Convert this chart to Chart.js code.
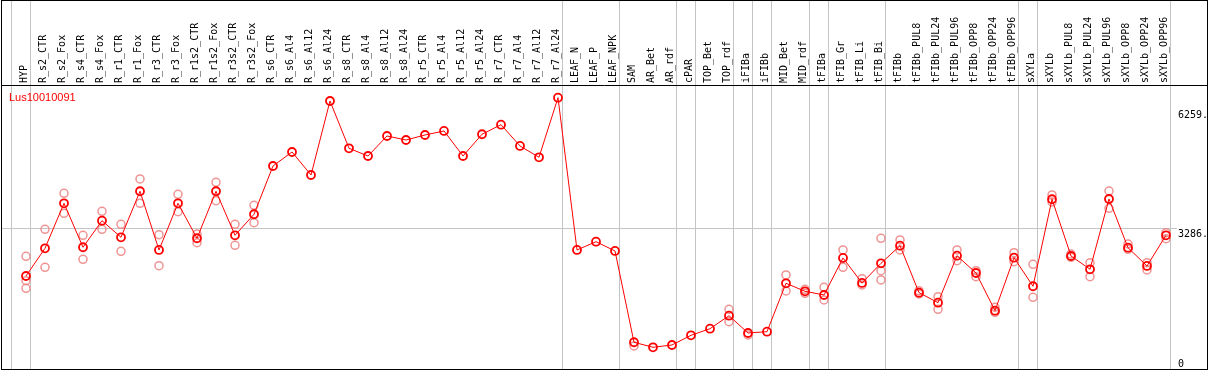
<!DOCTYPE html>
<html>
<head>
<meta charset="utf-8">
<script src="https://cdn.jsdelivr.net/npm/chart.js@4.4.1/dist/chart.umd.min.js"></script>
<style>
  body { margin: 0; background: #fff; }
  #wrap { width: 1209px; height: 370px; }
</style>
</head>
<body>
<div id="wrap"><canvas id="expr_chart" width="1209" height="370"></canvas></div>
<script>
// categories (samples)
const samples = ['HYP','R_s2_CTR','R_s2_Fox','R_s4_CTR','R_s4_Fox','R_r1_CTR','R_r1_Fox','R_r3_CTR','R_r3_Fox',
  'R_r1s2_CTR','R_r1s2_Fox','R_r3s2_CTR','R_r3s2_Fox','R_s6_CTR','R_s6_Al4','R_s6_Al12','R_s6_Al24',
  'R_s8_CTR','R_s8_Al4','R_s8_Al12','R_s8_Al24','R_r5_CTR','R_r5_Al4','R_r5_Al12','R_r5_Al24',
  'R_r7_CTR','R_r7_Al4','R_r7_Al12','R_r7_Al24','LEAF_N','LEAF_P','LEAF_NPK','SAM','AR_Bet','AR_rdf',
  'cPAR','TOP_Bet','TOP_rdf','iFIBa','iFIBb','MID_Bet','MID_rdf','tFIBa','tFIB_Gr','tFIB_Li','tFIB_Bi',
  'tFIBb','tFIBb_PUL8','tFIBb_PUL24','tFIBb_PUL96','tFIBb_OPP8','tFIBb_OPP24','tFIBb_OPP96',
  'sXYLa','sXYLb','sXYLb_PUL8','sXYLb_PUL24','sXYLb_PUL96','sXYLb_OPP8','sXYLb_OPP24','sXYLb_OPP96'];

const geneName = 'Lus10010091';

// mean expression
const meanValues = [2080,2776,3907,2802,3470,3053,4209,2734,3907,
  3028,4209,3103,3631,4844,5196,4618,6477,
  5289,5095,5598,5497,5623,5724,5095,5641,
  5882,5347,5063,6560,2734,2942,2709,415,289,347,
  590,756,1083,648,681,1897,1696,1603,2533,1905,2399,
  2842,1661,1410,2590,2156,1209,2540,
  1822,4008,2583,2249,4015,2791,2332,3103];

// replicates
const rep1 = [2575,3254,4158,3103,3706,3379,4518,3118,4133,
  3136,4435,3379,3857,null,null,null,null,
  null,null,null,null,null,null,null,null,
  null,null,null,null,null,null,null,322,null,null,
  null,null,1244,598,null,2106,1746,1796,2734,2013,3028,
  2985,1711,1560,2734,2214,1294,2666,
  2374,4116,2633,2415,4216,2884,2415,3168];
const rep2 = [1962,2299,3656,2500,3254,2701,3907,2339,3696,
  2917,3972,2852,3420,null,null,null,null,
  null,null,null,null,null,null,null,null,
  null,null,null,null,null,null,null,null,null,null,
  null,null,932,null,null,1704,1646,1477,2299,1854,2214,
  2734,1628,1244,2465,2063,1168,2440,
  1545,3940,2550,2063,3781,2751,2231,3018];
const rep3 = [1771,null,null,null,null,null,null,null,null,
  null,null,null,null,null,null,null,null,
  null,null,null,null,null,null,null,null,
  null,null,null,null,null,null,null,null,null,null,
  null,null,null,null,null,null,null,null,null,null,1980,
  null,null,null,null,null,null,null,
  null,null,null,null,null,null,null,null];

// y axis ticks
const yTickValues = [0, 3286, 6259];
const yTickLabels = ['0', '3286.', '6259.'];
const gridSamples = [-1, 0, 28, 31, 34, 35, 37, 38, 39, 41, 42, 45, 52, 53, 60]; // separator after these

const frame = {
  id: 'frame',
  beforeDatasetsDraw(chart) {
    const c = chart.ctx, x = chart.scales.x, y = chart.scales.y;
    c.save();
    c.strokeStyle = '#c4c4c4';
    c.lineWidth = 1;
    // vertical separators
    gridSamples.forEach(function(i) {
      const px = Math.round(x.getPixelForValue(i) + 4) + 0.5;
      c.beginPath(); c.moveTo(px, 0); c.lineTo(px, 369); c.stroke();
    });
    const gy = Math.round(y.getPixelForValue(3286)) + 0.5;
    c.beginPath(); c.moveTo(1, gy); c.lineTo(1177, gy); c.stroke();
    // box
    c.strokeStyle = '#000';
    c.strokeRect(1.5, 0.5, 1206, 369);
    c.beginPath(); c.moveTo(1, 85.5); c.lineTo(1208, 85.5); c.stroke();
    // y labels, just under their value
    c.fillStyle = '#000';
    c.font = '10px "DejaVu Sans Mono", monospace';
    c.textBaseline = 'top';
    c.textAlign = 'left';
    yTickValues.forEach(function(v, i) {
      c.fillText(yTickLabels[i], y.left + 12, y.getPixelForValue(v) + 1);
    });
    // gene label
    c.fillStyle = '#ff0000';
    c.font = '11px "Liberation Sans", Arial, sans-serif';
    c.textBaseline = 'alphabetic';
    c.fillText(geneName, 9, 101);
    c.restore();
  }
};

const repStyle = {
  type: 'line', showLine: false, clip: false,
  pointRadius: 4, pointBorderWidth: 1.5,
  pointBorderColor: 'rgba(236,128,128,0.85)', pointBackgroundColor: 'rgba(0,0,0,0)'
};

new Chart(document.getElementById('expr_chart'), {
  type: 'line',
  data: {
    labels: samples,
    datasets: [
      { data: meanValues, borderColor: '#ff0000', borderWidth: 1, clip: false,
        pointRadius: 4, pointBorderWidth: 1.8, pointBorderColor: '#ff0000',
        pointBackgroundColor: 'rgba(0,0,0,0)', tension: 0 },
      Object.assign({ data: rep1 }, repStyle),
      Object.assign({ data: rep2 }, repStyle),
      Object.assign({ data: rep3 }, repStyle)
    ]
  },
  options: {
    responsive: false,
    animation: false,
    devicePixelRatio: 1,
    layout: { padding: { left: 26, right: 2, top: 0, bottom: 1 } },
    plugins: { legend: { display: false }, tooltip: { enabled: false } },
    scales: {
      x: {
        position: 'top',
        offset: false,
        grid: { display: false, drawTicks: false },
        border: { display: false },
        afterFit: function(s) { s.height = 85; s.paddingLeft = 0; s.paddingRight = 0; },
        ticks: {
          autoSkip: false, minRotation: 90, maxRotation: 90, padding: 2, labelOffset: 10,
          color: '#000', font: { family: '"DejaVu Sans Mono", monospace', size: 10 }
        }
      },
      y: {
        position: 'right',
        min: -136, max: 6879,
        grid: { display: false, drawTicks: false },
        border: { display: false },
        afterFit: function(s) { s.width = 41; },
        afterBuildTicks: function(s) { s.ticks = yTickValues.map(v => ({ value: v })); },
        ticks: { display: false }
      }
    }
  },
  plugins: [frame]
});
</script>
</body>
</html>
